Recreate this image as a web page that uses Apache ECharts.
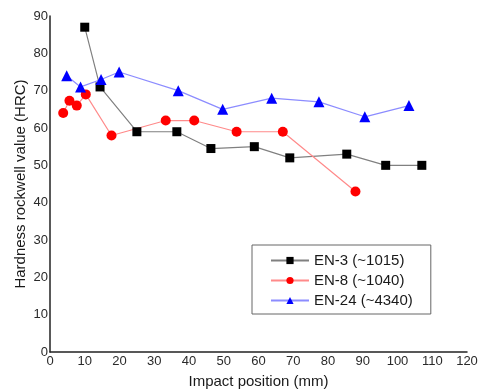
<!DOCTYPE html>
<html>
<head>
<meta charset="utf-8">
<script src="https://cdn.jsdelivr.net/npm/echarts@6/dist/echarts.min.js"></script>
<style>
  html, body { margin: 0; padding: 0; background: #fff; }
  #chart { width: 479px; height: 390px; }
</style>
</head>
<body>
<div id="chart"></div>
<script>
// [impact position (mm), hardness (HRC)]
const en3 = [[10, 87], [14.4, 71], [25, 59], [36.5, 59], [46.3, 54.5], [58.8, 55], [69, 52], [85.4, 53], [96.6, 50], [107, 50]];
const en8 = [[3.8, 64], [5.6, 67.3], [7.7, 66], [10.3, 69], [17.7, 58], [33.3, 62], [41.5, 62], [53.7, 59], [67, 59], [87.9, 43]];
const en24 = [[4.8, 74], [8.8, 71], [14.7, 73], [19.9, 75], [36.9, 70], [49.7, 65], [63.8, 68], [77.4, 67], [90.6, 63], [103.3, 66]];
const seriesNames = ['EN-3 (~1015)', 'EN-8 (~1040)', 'EN-24 (~4340)'];

const font = 'Arial, "Liberation Sans", sans-serif';
const chart = echarts.init(document.getElementById('chart'));

chart.setOption({
  animation: false,
  textStyle: { fontFamily: font },
  grid: { left: 50, right: 12, top: 16, bottom: 38, outerBoundsMode: 'none' },
  legend: {
    orient: 'vertical',
    left: 252,
    top: 245,
    width: 180,
    padding: [8, 18, 6, 18],
    itemGap: 5,
    itemWidth: 38,
    itemHeight: 9,
    borderColor: '#666',
    borderWidth: 1,
    textStyle: { fontSize: 15, color: '#1a1a1a', fontFamily: font },
    data: seriesNames
  },
  xAxis: {
    type: 'value',
    min: 0,
    max: 120,
    interval: 10,
    name: 'Impact position (mm)',
    nameLocation: 'middle',
    nameGap: 22,
    nameMoveOverlap: false,
    nameTextStyle: { fontSize: 15, color: '#1a1a1a' },
    axisLine: { lineStyle: { color: '#222', width: 1.5 } },
    axisTick: { show: false },
    axisLabel: { fontSize: 13, color: '#2a2a2a', margin: 3 },
    splitLine: { show: false }
  },
  yAxis: {
    type: 'value',
    min: 0,
    max: 90,
    interval: 10,
    name: 'Hardness rockwell value (HRC)',
    nameLocation: 'middle',
    nameGap: 22,
    nameMoveOverlap: false,
    nameTextStyle: { fontSize: 15, color: '#1a1a1a' },
    axisLine: { show: true, lineStyle: { color: '#222', width: 1.5 } },
    axisTick: { show: false },
    axisLabel: { fontSize: 13, color: '#2a2a2a', margin: 2 },
    splitLine: { show: false }
  },
  series: [
    {
      name: seriesNames[0],
      type: 'line',
      data: en3,
      symbol: 'rect',
      symbolSize: 9,
      lineStyle: { color: '#808080', width: 1.2 },
      itemStyle: { color: '#000' }
    },
    {
      name: seriesNames[1],
      type: 'line',
      data: en8,
      symbol: 'circle',
      symbolSize: 10,
      lineStyle: { color: '#ff8a8a', width: 1.2 },
      itemStyle: { color: '#ff0000' }
    },
    {
      name: seriesNames[2],
      type: 'line',
      data: en24,
      symbol: 'triangle',
      symbolSize: 11,
      lineStyle: { color: '#8c8cff', width: 1.2 },
      itemStyle: { color: '#0000ff' }
    }
  ]
});
</script>
</body>
</html>
